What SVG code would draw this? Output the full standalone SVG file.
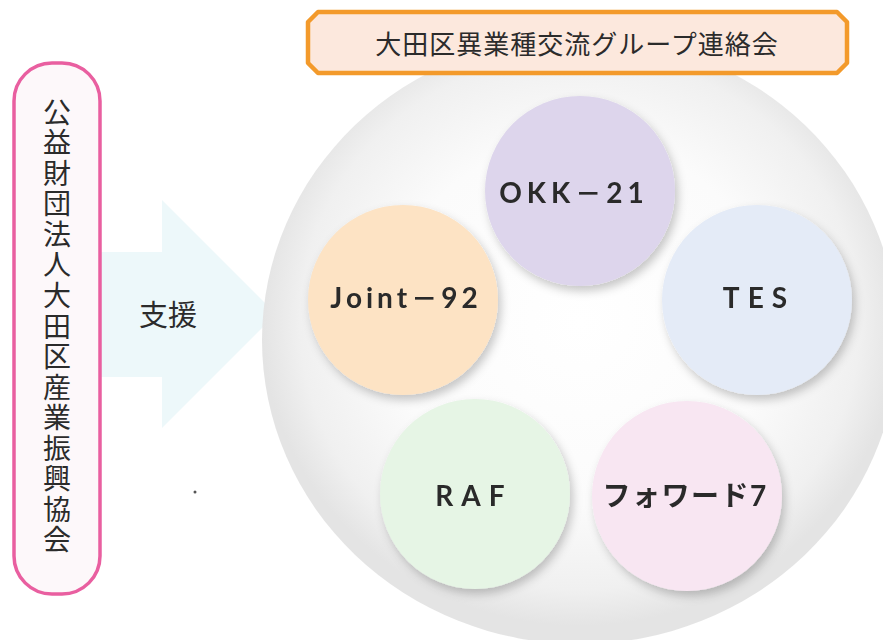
<svg xmlns="http://www.w3.org/2000/svg" width="883" height="640" viewBox="0 0 883 640">
<defs>
<radialGradient id="bg" cx="0.5" cy="0.47" r="0.5">
<stop offset="0" stop-color="#ffffff"/>
<stop offset="0.6" stop-color="#fbfbfb"/>
<stop offset="0.88" stop-color="#f0f0f0"/>
<stop offset="1" stop-color="#e4e4e4"/>
</radialGradient>
<filter id="sh" x="-20%" y="-20%" width="150%" height="150%">
<feDropShadow dx="3" dy="5" stdDeviation="5" flood-color="#000" flood-opacity="0.22"/>
</filter>
<style>
.t{font-family:"Noto Sans CJK JP","Noto Sans",sans-serif;fill:#2b2b2b}
.c{font-family:Lato,"Noto Sans CJK JP",sans-serif;fill:#2b2b2b;font-size:28px;font-weight:700;text-anchor:middle}
.d{font-family:"Noto Sans CJK JP",sans-serif;font-size:26px;font-weight:700}
.node{filter:url(#sh)}
</style>
</defs>
<rect width="883" height="640" fill="#ffffff"/>

<g id="connectors">
<path d="M100 252 H162 V200 L276 314 L162 428 V377 H100 Z" fill="#edf8fa"/>
<text class="t" x="168" y="326" font-size="29" text-anchor="middle">支援</text>
</g>

<circle cx="195" cy="492" r="1.5" fill="#555"/>

<g id="group-area">
<ellipse cx="580" cy="340" rx="318" ry="304" fill="url(#bg)"/>
</g>

<g id="title">
<path d="M318 12 H837 L847 22 V63 L837 73 H318 L308 63 V22 Z" fill="#fce8dd" stroke="#f39a2b" stroke-width="4.5" stroke-linejoin="round"/>
<text class="t" x="577" y="53.5" font-size="26" letter-spacing="1" text-anchor="middle">大田区異業種交流グループ連絡会</text>
</g>

<g id="support-org">
<rect x="14" y="63" width="86" height="531" rx="38" ry="38" fill="#fdf8fa" stroke="#e95fa0" stroke-width="3.5"/>
<text class="t" x="57" y="98" font-size="28" writing-mode="vertical-rl" letter-spacing="2.56">公益財団法人大田区産業振興協会</text>
</g>

<g id="okk21" class="node">
<circle cx="580" cy="191" r="95" fill="#ddd5ec"/>
<text class="c" x="574" y="203" letter-spacing="5">OKK<tspan class="d">－</tspan>21</text>
</g>
<g id="joint92" class="node">
<circle cx="403" cy="300" r="95" fill="#fde3c4"/>
<text class="c" x="406" y="308" letter-spacing="4">Joint<tspan class="d">－</tspan>92</text>
</g>
<g id="tes" class="node">
<circle cx="757" cy="300" r="95" fill="#e4ebf7"/>
<text class="c" x="759" y="308" letter-spacing="8">TES</text>
</g>
<g id="raf" class="node">
<circle cx="475" cy="494" r="95" fill="#e6f5e5"/>
<text class="c" x="474" y="506" letter-spacing="8">RAF</text>
</g>
<g id="forward7" class="node">
<circle cx="687" cy="496" r="95" fill="#f8e6f2"/>
<text class="c" x="685" y="506" font-size="25" font-weight="500" letter-spacing="1.5">フォワード7</text>
</g>
</svg>
